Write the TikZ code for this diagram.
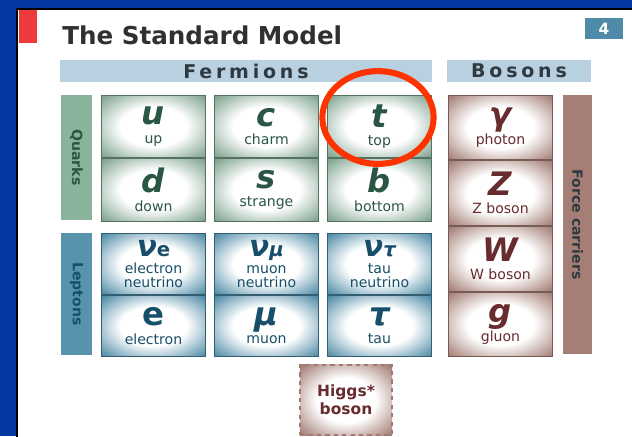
\documentclass[tikz,border=0pt]{standalone}
\usepackage{fontspec}
\setmainfont{DejaVu Sans}
\setsansfont{DejaVu Sans}
\usetikzlibrary{positioning}
\definecolor{SlideBlue}{HTML}{0636A0}
\definecolor{QuarkGreen}{HTML}{7BA08C}
\definecolor{QuarkBar}{HTML}{8AB39C}
\definecolor{QuarkInk}{HTML}{2A5644}
\definecolor{LeptonBlue}{HTML}{4A88A4}
\definecolor{LeptonBar}{HTML}{5893AE}
\definecolor{LeptonInk}{HTML}{174F6A}
\definecolor{BosonBrown}{HTML}{A07A70}
\definecolor{BosonBar}{HTML}{A57E76}
\definecolor{BosonInk}{HTML}{682B2E}
\definecolor{HeadBlue}{HTML}{B8D0E0}
\definecolor{HeadInk}{HTML}{2F3A40}
\definecolor{TitleInk}{HTML}{303030}
\definecolor{TabBlue}{HTML}{4F8AA8}
\definecolor{MarkRed}{HTML}{FF3300}
\definecolor{CornerRed}{HTML}{EE3A3A}

\pgfdeclareradialshading{quarkglow}{\pgfpoint{0bp}{0bp}}{color(0bp)=(white); color(16bp)=(white); color(35bp)=(QuarkGreen); color(50bp)=(QuarkGreen)}
\pgfdeclareradialshading{leptonglow}{\pgfpoint{0bp}{0bp}}{color(0bp)=(white); color(16bp)=(white); color(35bp)=(LeptonBlue); color(50bp)=(LeptonBlue)}
\pgfdeclareradialshading{bosonglow}{\pgfpoint{0bp}{0bp}}{color(0bp)=(white); color(16bp)=(white); color(35bp)=(BosonBrown); color(50bp)=(BosonBrown)}

\newfontfamily\spacedfont[LetterSpace=20]{DejaVu Sans}
\newcommand\psym[1]{{\fontsize{23}{24}\selectfont\bfseries\itshape #1}}
\newcommand\plab[1]{{\fontsize{10}{11}\selectfont #1}}
\newcommand\nusub[1]{{\fontsize{21}{22}\selectfont\bfseries\itshape ν}{\fontsize{14}{14}\selectfont\bfseries #1}}

\begin{document}
\begin{tikzpicture}[x=0.025cm, y=-0.025cm,
    cell/.style={shade, minimum width=2.6cm, minimum height=1.56cm, inner sep=0pt, align=center, line width=0.6pt, font=\fontsize{10}{13}\selectfont},
    quark/.style={cell, shading=quarkglow, draw=QuarkGreen!70!black, text=QuarkInk},
    lepton/.style={cell, shading=leptonglow, draw=LeptonBlue!70!black, text=LeptonInk, minimum height=1.53cm, font=\fontsize{10}{12}\selectfont},
    boson/.style={cell, shading=bosonglow, draw=BosonBrown!75!black, text=BosonInk, minimum width=2.62cm, minimum height=1.62cm},
    sidebar/.style={rotate=-90, minimum height=0.77cm, inner sep=0pt, font=\fontsize{10}{12}\selectfont\bfseries},
    head/.style={fill=HeadBlue, text=HeadInk, minimum height=0.55cm, inner sep=0pt, font=\spacedfont\fontsize{13.5}{14}\selectfont\bfseries}
  ]
    \useasboundingbox (0,0) rectangle (632,436);
    \fill[SlideBlue] (0,0) rectangle (632,436);
    \draw[black, line width=2pt, fill=white] (17,9) rectangle (645,450);
    \fill[CornerRed] (19,10) rectangle (37,43);

    \node[anchor=base west, inner sep=0pt, text=TitleInk, font=\fontsize{17.5}{19}\selectfont\bfseries] (title) at (62,44) {The Standard Model};
    \node[fill=TabBlue, text=white, minimum width=0.95cm, minimum height=0.525cm, inner sep=0pt, font=\fontsize{11}{12}\selectfont\bfseries] (page) at (604,28.5) {4};

    \node[head, minimum width=9.3cm] (fermions) at (246,71) {Fermions};
    \node[head, minimum width=3.6cm] (bosons) at (519,71) {Bosons};

    % quarks
    \node[sidebar, fill=QuarkBar, text=QuarkInk, minimum width=3.125cm] (quarks) at (76.5,157.5) {Quarks};
    \node[quark] (u) at (153.5,126.5) {\psym{u}\\\plab{up}};
    \node[quark] (c) at (266.5,126.5) {\psym{c}\\\plab{charm}};
    \node[quark] (t) at (379.5,126.5) {\psym{t}\\\plab{top}};
    \node[quark, below=0pt of u] (d) {\psym{d}\\\plab{down}};
    \node[quark, below=0pt of c] (s) {\psym{s}\\\plab{strange}};
    \node[quark, below=0pt of t] (b) {\psym{b}\\\plab{bottom}};

    % leptons
    \node[sidebar, fill=LeptonBar, text=LeptonInk, minimum width=3.05cm] (leptons) at (76.5,294) {Leptons};
    \node[lepton] (nue) at (153.5,264) {\nusub{e}\\[0pt]\plab{electron}\\[-2pt]\plab{neutrino}};
    \node[lepton] (numu) at (266.5,264) {\nusub{\itshape μ}\\[0pt]\plab{muon}\\[-2pt]\plab{neutrino}};
    \node[lepton] (nutau) at (379.5,264) {\nusub{\itshape τ}\\[0pt]\plab{tau}\\[-2pt]\plab{neutrino}};
    \node[lepton, below=0pt of nue] (e) {\psym{\upshape e}\\[1pt]\plab{electron}};
    \node[lepton, below=0pt of numu] (mu) {\psym{μ}\\[1pt]\plab{muon}};
    \node[lepton, below=0pt of nutau] (tau) {\psym{τ}\\[1pt]\plab{tau}};

    % bosons
    \node[boson] (gamma) at (500.5,127.5) {\psym{γ}\\\plab{photon}};
    \node[boson, below=0pt of gamma] (Z) {\psym{Z}\\\plab{Z boson}};
    \node[boson, below=0pt of Z] (W) {\psym{W}\\\plab{W boson}};
    \node[boson, below=0pt of W] (g) {\psym{g}\\\plab{gluon}};
    \node[sidebar, fill=BosonBar, text=HeadInk, minimum width=6.475cm, minimum height=0.725cm] (force) at (577.5,224.5) {Force carriers};

    \node[shade, shading=bosonglow, draw=BosonBrown, dashed, line width=0.8pt, minimum width=2.3cm, minimum height=1.75cm, align=center, text=BosonInk, font=\fontsize{11}{13}\selectfont\bfseries] (higgs) at (346,400) {Higgs*\\boson};

    \draw[MarkRed, line width=4.3pt] ([shift={(-1.5,-9)}]t.center) ellipse [x radius=1.39cm, y radius=1.16cm];
\end{tikzpicture}
\end{document}
